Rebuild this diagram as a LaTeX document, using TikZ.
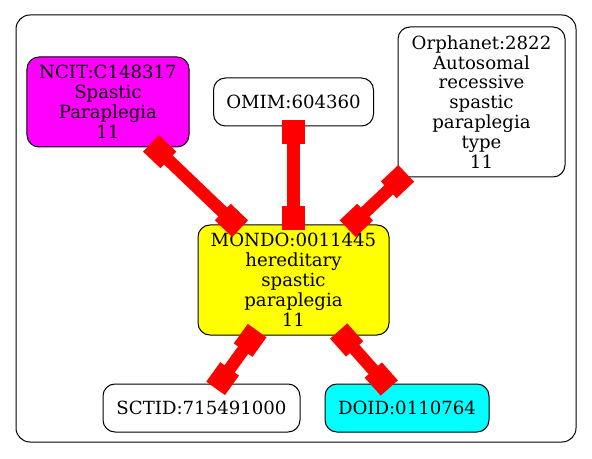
\documentclass[tikz,border=0pt]{standalone}
\usepackage{fontspec}
\setmainfont{DejaVu Serif}
\usetikzlibrary{arrows.meta}
\definecolor{edgered}{RGB}{255,0,0}
\definecolor{ncitmag}{RGB}{255,0,255}
\definecolor{mondoyel}{RGB}{255,255,0}
\definecolor{doidcyan}{RGB}{0,255,255}
\tikzset{
  term/.style={draw=black, line width=1bp, rounded corners=12bp, align=center, inner sep=0pt,
    font=\fontsize{18.2}{20}\selectfont},
  xref/.style={draw=edgered, line width=12.5bp,
    {Square[length=24bp,width=23bp]}-{Square[length=24bp,width=23bp]},
    shorten <=-6bp, shorten >=-6bp}
}
\begin{document}
\begin{tikzpicture}[x=1bp, y=-1bp]
  \useasboundingbox (0,0) rectangle (592,459);
  % cluster
  \draw[line width=1bp, rounded corners=14bp] (16,15) rectangle (576,442);

  % terms
  \node[term, fill=ncitmag, minimum width=162bp, minimum height=90bp] (ncit) at (108,102) {NCIT:C148317\\Spastic\\Paraplegia\\11};
  \node[term, fill=white, minimum width=160bp, minimum height=48bp] (omim) at (293.5,102) {OMIM:604360};
  \node[term, fill=white, minimum width=167bp, minimum height=150bp] (orpha) at (481.5,102) {Orphanet:2822\\Autosomal\\recessive\\spastic\\paraplegia\\type\\11};
  \node[term, fill=mondoyel, minimum width=191bp, minimum height=110bp] (mondo) at (293.5,280) {MONDO:0011445\\hereditary\\spastic\\paraplegia\\11};
  \node[term, fill=white, minimum width=197bp, minimum height=48bp] (sctid) at (201.5,408) {SCTID:715491000};
  \node[term, fill=doidcyan, minimum width=164bp, minimum height=48bp] (doid) at (407,408) {DOID:0110764};

  % cross references
  \draw[xref] (ncit) -- (mondo);
  \draw[xref] (omim) -- (mondo);
  \draw[xref] (orpha) -- (mondo);
  \draw[xref] (mondo) -- (sctid);
  \draw[xref] (mondo) -- (doid);
\end{tikzpicture}
\end{document}
